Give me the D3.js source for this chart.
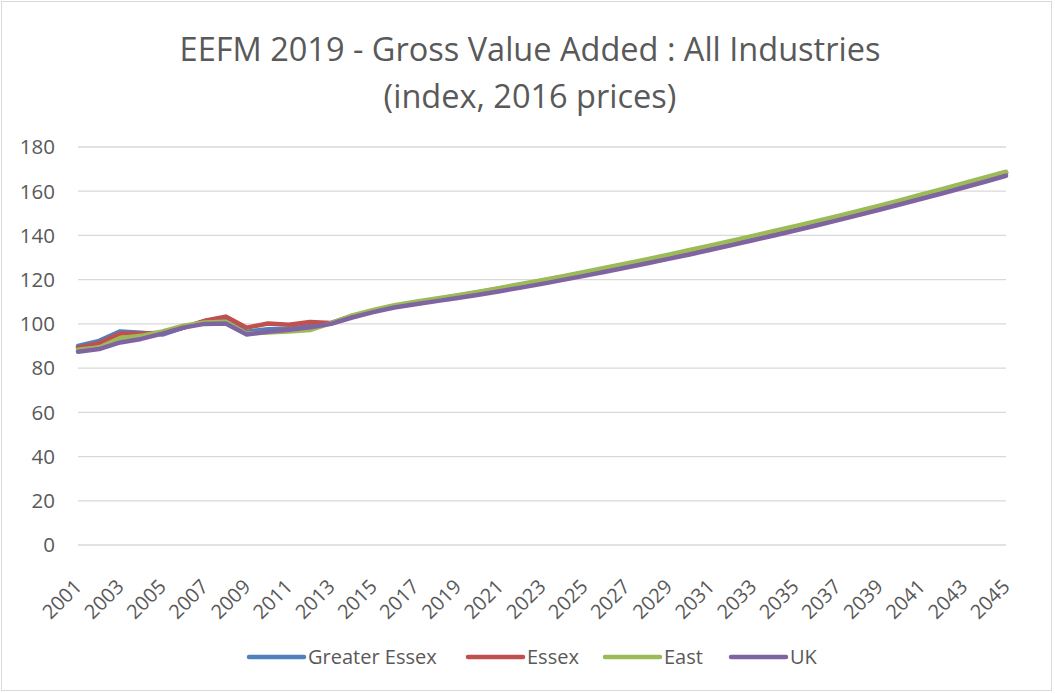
<!DOCTYPE html>
<html>
<head>
<meta charset="utf-8">
<script src="https://cdn.jsdelivr.net/npm/d3@7"></script>
<style>
  body { margin: 0; background: #fff; }
  text { font-family: "Open Sans", "Liberation Sans", sans-serif; fill: #595959; }
</style>
</head>
<body>
<div id="chart"></div>
<script>
// categories (years)
const years = [2001, 2002, 2003, 2004, 2005, 2006, 2007, 2008, 2009, 2010,
  2011, 2012, 2013, 2014, 2015, 2016, 2017, 2018, 2019, 2020,
  2021, 2022, 2023, 2024, 2025, 2026, 2027, 2028, 2029, 2030,
  2031, 2032, 2033, 2034, 2035, 2036, 2037, 2038, 2039, 2040,
  2041, 2042, 2043, 2044, 2045];

// series values
const greaterEssex = [90.0, 92.3, 96.6, 96.0, 95.2, 98.3, 101.2, 101.5, 96.5, 97.6,
  97.8, 99.0, 100.2, 103.5, 105.8, 108.0, 109.6, 111.1, 112.6, 114.1,
  115.7, 117.4, 119.2, 121.0, 122.9, 124.8, 126.7, 128.7, 130.7, 132.8,
  134.9, 137.0, 139.2, 141.4, 143.6, 145.8, 148.1, 150.5, 152.9, 155.4,
  157.9, 160.4, 163.0, 165.6, 168.2];
const essex = [89.2, 91.3, 95.6, 95.6, 96.0, 98.3, 101.4, 103.3, 98.3, 100.2,
  99.6, 100.9, 100.4, 103.5, 105.9, 108.0, 109.7, 111.2, 112.7, 114.3,
  116.0, 117.7, 119.5, 121.3, 123.1, 125.0, 126.9, 128.9, 130.9, 133.0,
  135.1, 137.2, 139.4, 141.6, 143.8, 146.0, 148.3, 150.7, 153.1, 155.6,
  158.1, 160.6, 163.2, 165.8, 168.4];
const east = [88.3, 89.3, 93.6, 94.6, 96.6, 99.2, 100.6, 101.0, 95.6, 96.1,
  96.6, 97.2, 100.3, 103.8, 106.3, 108.4, 110.0, 111.5, 113.0, 114.6,
  116.3, 118.0, 119.8, 121.6, 123.5, 125.4, 127.3, 129.3, 131.3, 133.4,
  135.5, 137.6, 139.8, 142.0, 144.2, 146.4, 148.7, 151.1, 153.5, 156.0,
  158.5, 161.0, 163.6, 166.2, 168.8];
const uk = [87.4, 88.6, 91.6, 93.2, 95.6, 98.3, 100.0, 100.2, 95.2, 96.4,
  97.3, 98.5, 100.0, 102.9, 105.3, 107.4, 108.9, 110.3, 111.7, 113.2,
  114.8, 116.4, 118.1, 119.9, 121.7, 123.6, 125.5, 127.4, 129.4, 131.4,
  133.5, 135.6, 137.8, 140.0, 142.2, 144.5, 146.8, 149.2, 151.6, 154.1,
  156.6, 159.1, 161.7, 164.3, 167.0];

const seriesNames = ['Greater Essex', 'Essex', 'East', 'UK'];
const seriesColors = ['#4F81BD', '#C0504D', '#9BBB59', '#8064A2'];
const yTicks = [0, 20, 40, 60, 80, 100, 120, 140, 160, 180];

const series = [greaterEssex, essex, east, uk].map((vals, i) => ({
  name: seriesNames[i], color: seriesColors[i], values: vals
}));

const W = 1055, H = 693;
const svg = d3.select('#chart').append('svg')
  .attr('width', W)
  .attr('height', H);

// outer chart border
svg.append('rect')
  .attr('x', 1.5).attr('y', 1.5)
  .attr('width', W - 5).attr('height', H - 4)
  .attr('fill', '#fff')
  .attr('stroke', '#d9d9d9');

// title
svg.append('text')
  .attr('x', 530).attr('y', 61)
  .attr('text-anchor', 'middle')
  .attr('font-size', 32.5)
  .text('EEFM 2019 - Gross Value Added : All Industries');
svg.append('text')
  .attr('x', 530).attr('y', 108)
  .attr('text-anchor', 'middle')
  .attr('font-size', 32.5)
  .text('(index, 2016 prices)');

const x = d3.scalePoint().domain(years).range([78, 1006]);
const y = d3.scaleLinear().domain([0, 180]).range([545, 147]);

// gridlines
svg.append('g')
  .selectAll('line')
  .data(yTicks)
  .enter()
  .append('line')
  .attr('x1', 78).attr('x2', 1006)
  .attr('y1', d => y(d)).attr('y2', d => y(d))
  .attr('stroke', '#d9d9d9')
  .attr('stroke-width', 1.3);

// y axis labels
svg.append('g')
  .selectAll('text')
  .data(yTicks)
  .enter()
  .append('text')
  .attr('x', 55)
  .attr('y', d => y(d))
  .attr('dy', '0.36em')
  .attr('text-anchor', 'end')
  .attr('font-size', 20.5)
  .text(d => d);

// x axis labels, every other year, rotated
svg.append('g')
  .selectAll('text')
  .data(years.filter((d, i) => i % 2 === 0))
  .enter()
  .append('text')
  .attr('transform', d => `translate(${x(d) + 5},${588}) rotate(-45)`)
  .attr('text-anchor', 'end')
  .attr('font-size', 20)
  .text(d => d);

// lines
const line = d3.line()
  .x((d, i) => x(years[i]))
  .y(d => y(d));

svg.append('g')
  .selectAll('path')
  .data(series)
  .enter()
  .append('path')
  .attr('d', d => line(d.values))
  .attr('fill', 'none')
  .attr('stroke', d => d.color)
  .attr('stroke-width', 4.5)
  .attr('stroke-linejoin', 'round')
  .attr('stroke-linecap', 'round');

// legend
const legendX = [249, 468, 605, 731];
const legend = svg.append('g')
  .selectAll('g')
  .data(series)
  .enter()
  .append('g')
  .attr('transform', (d, i) => `translate(${legendX[i]},657)`);
legend.append('line')
  .attr('x1', 0).attr('x2', 55)
  .attr('stroke', d => d.color)
  .attr('stroke-width', 4.5)
  .attr('stroke-linecap', 'round');
legend.append('text')
  .attr('x', 59)
  .attr('dy', '0.35em')
  .attr('font-size', 20)
  .text(d => d.name);
</script>
</body>
</html>
